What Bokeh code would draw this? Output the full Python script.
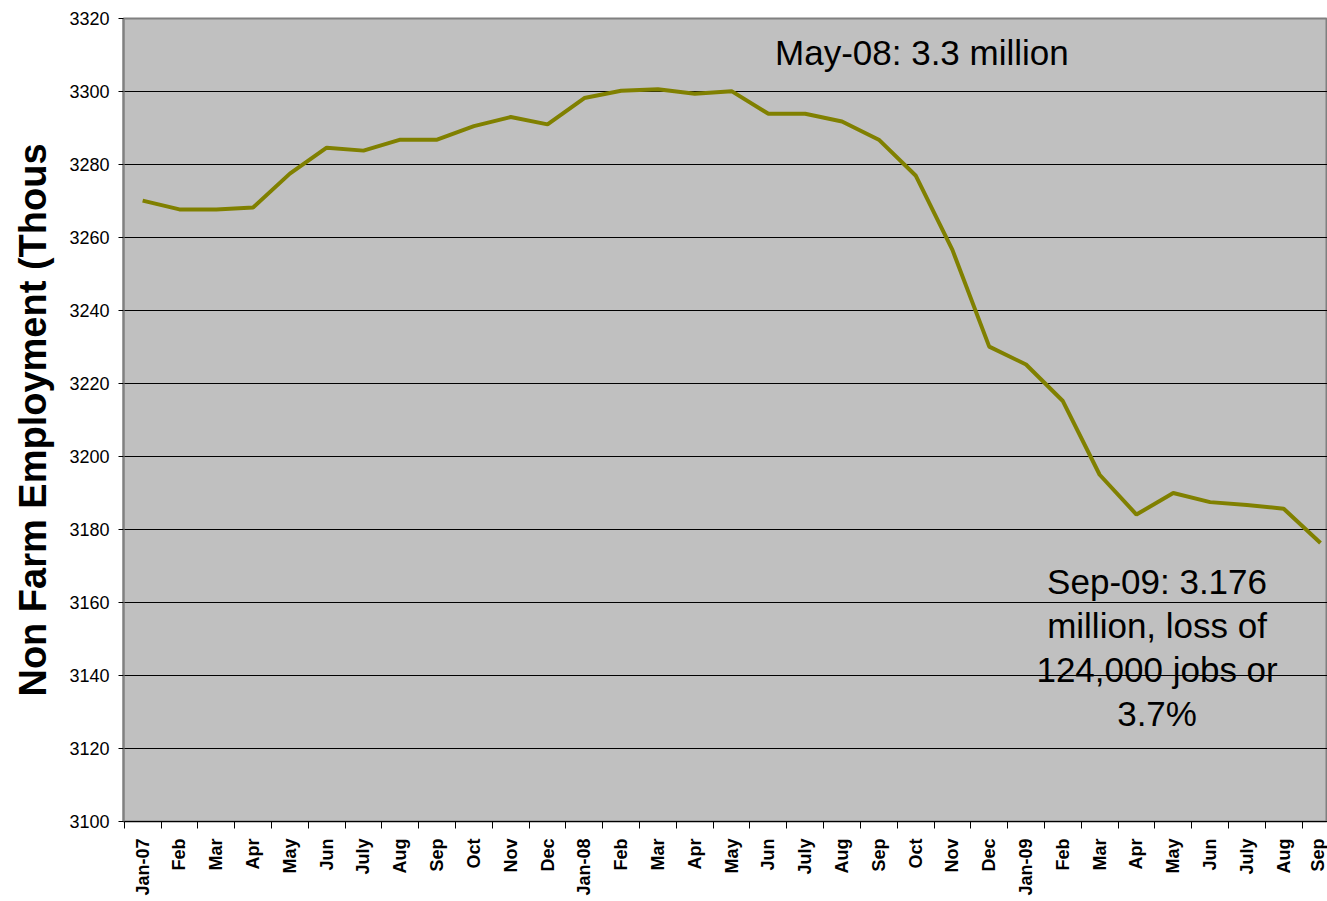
from bokeh.plotting import figure
from bokeh.models import Range1d, FixedTicker, Label
from bokeh.embed import file_html
from bokeh.resources import INLINE

months = ["Jan-07", "Feb", "Mar", "Apr", "May", "Jun", "July", "Aug", "Sep", "Oct", "Nov", "Dec",
          "Jan-08", "Feb", "Mar", "Apr", "May", "Jun", "July", "Aug", "Sep", "Oct", "Nov", "Dec",
          "Jan-09", "Feb", "Mar", "Apr", "May", "Jun", "July", "Aug", "Sep"]
employment = [3270.1, 3267.7, 3267.7, 3268.2, 3277.5, 3284.6, 3283.8, 3286.8, 3286.8, 3290.5, 3293.0, 3291.0,
              3298.2, 3300.2, 3300.6, 3299.4, 3300.1, 3293.9, 3293.9, 3291.8, 3286.8, 3277.0, 3256.6, 3230.1,
              3225.2, 3215.2, 3195.0, 3184.1, 3190.0, 3187.5, 3186.7, 3185.7, 3176.3]
y_ticks = list(range(3100, 3321, 20))
y_title = "Non Farm Employment (Thous"
note_peak = "May-08: 3.3 million"
note_end = "Sep-09: 3.176\nmillion, loss of\n124,000 jobs or\n3.7%"

FONT = "Liberation Sans"
xs = list(range(len(months)))

p = figure(width=1327, height=901, output_backend="svg", toolbar_location=None,
           x_range=Range1d(-0.52, 32.19), y_range=Range1d(3100, 3320),
           min_border_left=123, min_border_top=18, min_border_bottom=80, min_border_right=0)
p.background_fill_color = "#C0C0C0"
p.border_fill_color = "white"
p.outline_line_color = "#808080"
p.outline_line_width = 2

p.line(xs, employment, line_color="#808000", line_width=4)

# y axis
p.yaxis.ticker = FixedTicker(ticks=y_ticks)
p.yaxis.minor_tick_line_color = None
p.yaxis.major_tick_out = 5
p.yaxis.major_tick_in = 0
p.yaxis.major_tick_line_color = "black"
p.yaxis.axis_line_color = "#808080"
p.yaxis.axis_line_width = 2
p.yaxis.major_label_standoff = 9
p.yaxis.major_label_text_font = FONT
p.yaxis.major_label_text_font_size = "18px"
p.yaxis.major_label_text_color = "black"
p.yaxis.axis_label = y_title
p.yaxis.axis_label_text_font = FONT
p.yaxis.axis_label_text_font_style = "bold"
p.yaxis.axis_label_text_font_size = "38px"
p.yaxis.axis_label_text_color = "black"
p.yaxis.axis_label_standoff = 12

# x axis
p.xaxis.ticker = FixedTicker(ticks=xs, minor_ticks=[i - 0.5 for i in range(len(months) + 1)])
p.xaxis.major_label_overrides = {i: m for i, m in enumerate(months)}
p.xaxis.major_label_orientation = 3.14159265 / 2
p.xaxis.major_tick_line_color = None
p.xaxis.major_tick_out = 0
p.xaxis.minor_tick_out = 7
p.xaxis.minor_tick_in = 0
p.xaxis.minor_tick_line_color = "black"
p.xaxis.axis_line_color = "black"
p.xaxis.major_label_standoff = 10
p.xaxis.major_label_text_font = FONT
p.xaxis.major_label_text_font_style = "bold"
p.xaxis.major_label_text_font_size = "18px"
p.xaxis.major_label_text_color = "black"

p.xgrid.grid_line_color = None
p.ygrid.grid_line_color = "black"
p.ygrid.grid_line_width = 1

p.add_layout(Label(x=21.17, y=3310.7, text=note_peak, text_font=FONT, text_font_size="35px",
                   text_align="center", text_baseline="middle", text_color="black"))
p.add_layout(Label(x=27.56, y=3171.1, text=note_end, text_font=FONT, text_font_size="35px",
                   text_align="center", text_baseline="top", text_color="black",
                   text_line_height=1.13))

open("out.html", "w").write(file_html(p, INLINE))
